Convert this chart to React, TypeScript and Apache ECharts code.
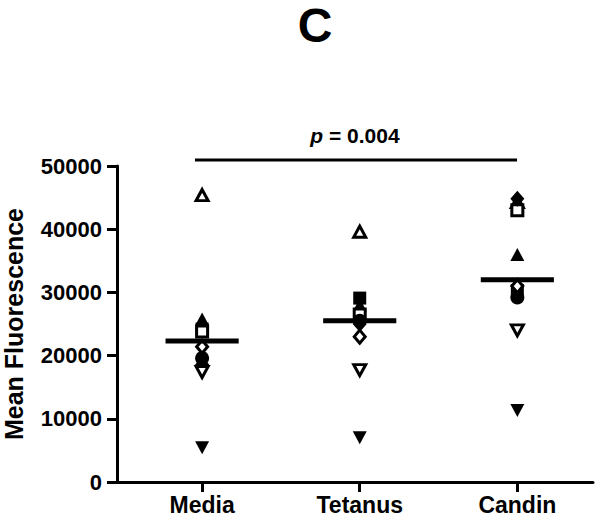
import React, { useEffect, useRef } from "react";
import * as echarts from "echarts";

const categories = ["Media", "Tetanus", "Candin"];
const catPos = [1, 2, 3];
const openTriangleUp = [45400, 39600, 44300];
const filledTriangleUp = [25800, 28000, 36000];
const filledSquare = [24200, 29100, 30300];
const openSquare = [23800, 26500, 43000];
const openDiamond = [21400, 23000, 31000];
const filledDiamond = [18600, 25000, 44800];
const filledCircle = [19600, 25500, 29200];
const openTriangleDown = [17400, 17700, 24000];
const filledTriangleDown = [5400, 7000, 11300];
const means = [22300, 25500, 32000];
const yTicks = [0, 10000, 20000, 30000, 40000, 50000];
const pValueText = "0.004";

const FONT = "'Liberation Sans', Arial, Helvetica, sans-serif";

export default function App() {
  const ref = useRef<HTMLDivElement>(null);
  useEffect(() => {
    if (!ref.current) return;
    const chart = echarts.init(ref.current, null, { renderer: "svg" });
    const mk = (vals: number[]) => vals.map((v, i) => [catPos[i], v]);
    const open = { color: "#ffffff", borderColor: "#000000", borderWidth: 3, opacity: 1 };
    const filled = { color: "#000000", opacity: 1 };
    const scatter = (
      name: string,
      vals: number[],
      symbol: string,
      size: any,
      style: any,
      rotate = 0
    ) => ({
      name,
      type: "scatter",
      data: mk(vals),
      symbol,
      symbolSize: size,
      symbolRotate: rotate,
      itemStyle: style,
      emphasis: { disabled: true },
      z: 3,
    });
    chart.setOption({
      animation: false,
      backgroundColor: "#ffffff",
      grid: { left: 117, right: 7, top: 166, bottom: 41, outerBoundsMode: "none", containLabel: false },
      xAxis: {
        type: "value",
        min: 0.46,
        max: 3.48,
        splitLine: { show: false },
        axisLine: { show: true, onZero: false, lineStyle: { color: "#000", width: 3 } },
        axisTick: {
          show: true,
          customValues: catPos,
          length: 10,
          lineStyle: { color: "#000", width: 3 },
        },
        axisLabel: {
          customValues: catPos,
          formatter: (v: number) => categories[Math.round(v) - 1] ?? "",
          color: "#000",
          fontFamily: FONT,
          fontWeight: "bold",
          fontSize: 23,
          margin: 11,
        },
      },
      yAxis: {
        type: "value",
        min: yTicks[0],
        max: yTicks[yTicks.length - 1],
        interval: 10000,
        splitLine: { show: false },
        axisLine: { show: true, lineStyle: { color: "#000", width: 3 } },
        axisTick: { show: true, length: 10, lineStyle: { color: "#000", width: 3 } },
        axisLabel: {
          color: "#000",
          fontFamily: FONT,
          fontWeight: "bold",
          fontSize: 22,
          margin: 15,
          formatter: (v: number) => String(v),
        },
        name: "Mean Fluorescence",
        nameLocation: "middle",
        nameGap: 91,
        nameTextStyle: {
          color: "#000",
          fontFamily: FONT,
          fontWeight: "bold",
          fontSize: 25,
        },
      },
      series: [
        scatter("openTriangleUp", openTriangleUp, "triangle", [12, 11], open),
        scatter("filledTriangleUp", filledTriangleUp, "triangle", [14, 13], filled),
        scatter("filledSquare", filledSquare, "rect", 13, filled),
        scatter("openSquare", openSquare, "rect", 11, open),
        scatter("filledDiamond", filledDiamond, "diamond", [14, 16], filled),
        scatter("filledCircle", filledCircle, "circle", 14, filled),
        scatter("openDiamond", openDiamond, "diamond", [11, 13], open),
        scatter("openTriangleDown", openTriangleDown, "triangle", [12, 11], open, 180),
        scatter("filledTriangleDown", filledTriangleDown, "triangle", [14, 13], filled, 180),
        {
          name: "mean",
          type: "custom",
          z: 5,
          data: means.map((m, i) => [catPos[i], m]),
          renderItem: (params: any, api: any) => {
            const x = api.value(0);
            const y = api.value(1);
            const p1 = api.coord([x - 0.232, y]);
            const p2 = api.coord([x + 0.232, y]);
            return {
              type: "line",
              shape: { x1: p1[0], y1: p1[1], x2: p2[0], y2: p2[1] },
              style: { stroke: "#000", lineWidth: 5 },
            };
          },
        },
      ],
      graphic: [
        {
          type: "text",
          x: 315,
          y: 25,
          style: {
            text: "C",
            font: `bold 48px ${FONT}`,
            fill: "#000",
            align: "center",
            verticalAlign: "middle",
          },
        },
        {
          type: "line",
          shape: { x1: 195, y1: 160, x2: 517, y2: 160 },
          style: { stroke: "#000", lineWidth: 3 },
        },
        {
          type: "text",
          x: 355,
          y: 135,
          style: {
            text: `{p|p}{v| = ${pValueText}}`,
            align: "center",
            verticalAlign: "middle",
            fill: "#000",
            rich: {
              p: { fontFamily: FONT, fontStyle: "italic", fontWeight: "bold", fontSize: 21, fill: "#000" },
              v: { fontFamily: FONT, fontWeight: "bold", fontSize: 21, fill: "#000" },
            },
          },
        },
      ],
    });
    return () => chart.dispose();
  }, []);
  return (
    <div
      ref={ref}
      style={{ position: "absolute", left: 0, top: 0, width: 600, height: 523 }}
    />
  );
}
